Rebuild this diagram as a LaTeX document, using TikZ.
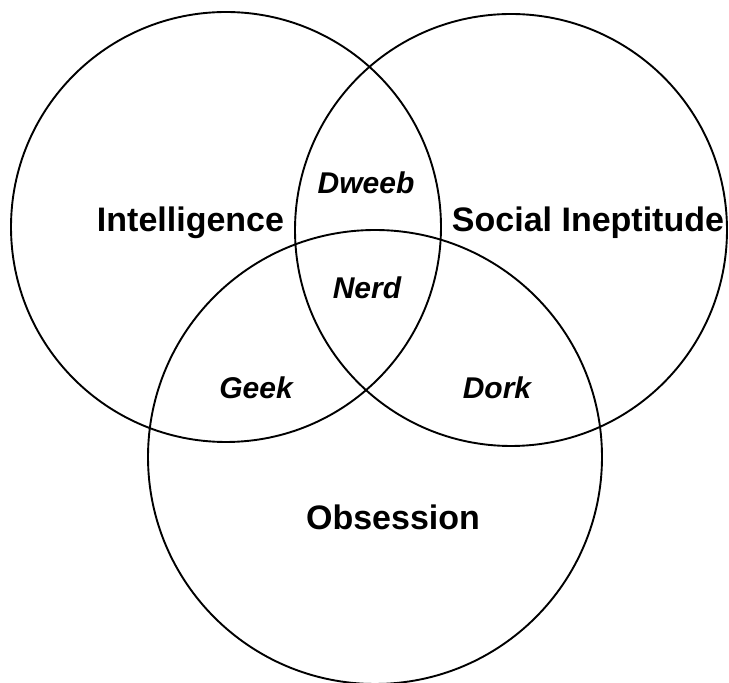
\documentclass[tikz,border=0pt]{standalone}
\usepackage{fontspec}
\setmainfont{Liberation Sans}
\begin{document}
\begin{tikzpicture}[x=0.5pt,y=-0.5pt,
  ring/.style={draw=black,line width=0.95pt},
  setlabel/.style={anchor=base,inner sep=0pt,font=\fontsize{17}{20}\selectfont\bfseries},
  overlap/.style={anchor=base,inner sep=0pt,font=\fontsize{15}{18}\selectfont\bfseries\itshape}]
  \useasboundingbox (0,0) rectangle (729,683);
  % the three sets
  \draw[ring] (226,227) circle[radius=215];
  \draw[ring] (511,230) circle[radius=216];
  \draw[ring] (375,457) circle[radius=227];
  % set names
  \node[setlabel] (intel) at (190.5,232) {Intelligence};
  \node[setlabel] (social) at (588,232) {Social Ineptitude};
  \node[setlabel] (obs) at (393,530) {Obsession};
  % intersections
  \node[overlap] (dweeb) at (366,194) {Dweeb};
  \node[overlap] (nerd) at (367,299) {Nerd};
  \node[overlap] (geek) at (256,399) {Geek};
  \node[overlap] (dork) at (497,399) {Dork};
\end{tikzpicture}
\end{document}
